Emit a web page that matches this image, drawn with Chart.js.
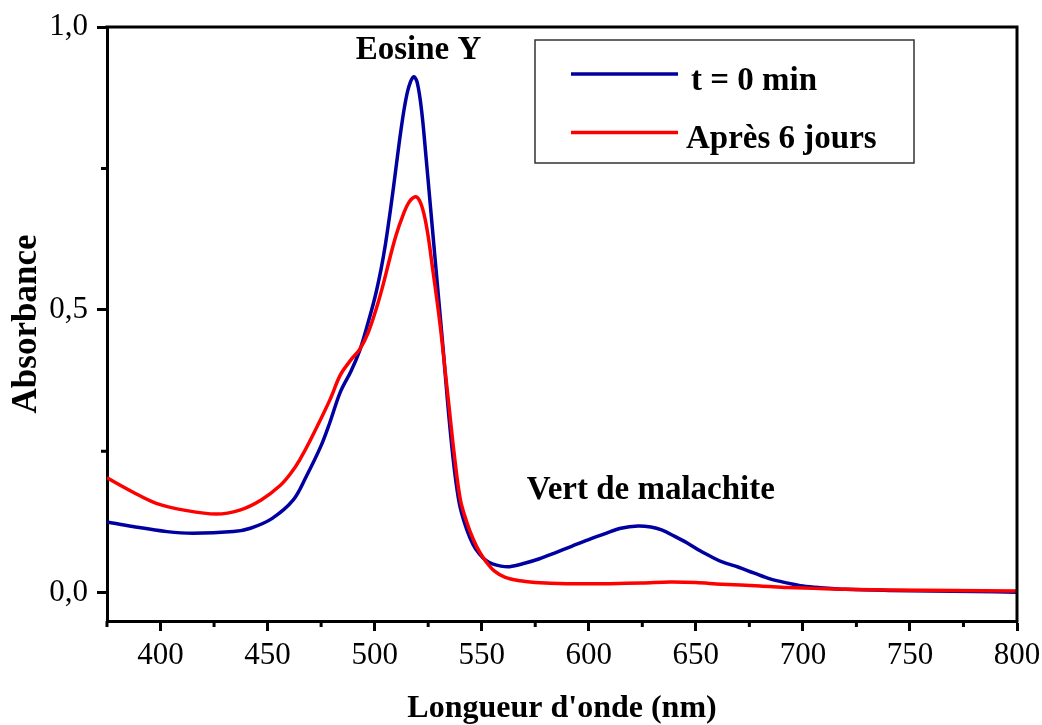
<!DOCTYPE html>
<html>
<head>
<meta charset="utf-8">
<script src="https://cdn.jsdelivr.net/npm/chart.js@4/dist/chart.umd.min.js"></script>
<style>
  html, body { margin: 0; padding: 0; background: #fff; }
  #chart { display: block; }
</style>
</head>
<body>
<canvas id="chart" width="1042" height="725"></canvas>
<script>
// values (wavelength in nm, absorbance)
const blueWavelengths = [375, 387, 403, 415, 434, 442, 452, 462, 468, 475, 479, 484, 489, 493, 496, 500, 503, 505, 507.5, 510,
  512, 514, 516, 518.3, 520, 522, 524, 526, 528, 530, 532, 534, 536, 538, 540, 543, 546, 549, 552, 555,
  559, 563, 570, 577, 584, 592, 600, 608, 615, 623, 629, 634, 640, 646, 652, 657, 662, 670, 677, 685,
  693, 700, 708, 720, 740, 760, 780, 800]
const blueAbsorbance = [0.125, 0.117, 0.108, 0.105, 0.108, 0.114, 0.131, 0.164, 0.205, 0.26, 0.30, 0.355, 0.392, 0.428, 0.465, 0.52, 0.572, 0.615, 0.68, 0.752,
  0.81, 0.86, 0.895, 0.912, 0.90, 0.85, 0.77, 0.685, 0.60, 0.515, 0.43, 0.34, 0.26, 0.195, 0.15, 0.112, 0.085, 0.068, 0.057, 0.051,
  0.047, 0.046, 0.052, 0.06, 0.07, 0.082, 0.094, 0.105, 0.114, 0.118, 0.116, 0.111, 0.10, 0.088, 0.074, 0.064, 0.055, 0.045, 0.035, 0.024,
  0.017, 0.012, 0.009, 0.006, 0.004, 0.003, 0.002, 0.001]

const redWavelengths = [375, 387, 398, 411, 426, 437, 447, 456, 461, 465, 470, 479, 484, 489, 493, 497, 501, 504, 507, 510,
  513, 516, 519, 521, 523, 525, 527, 529, 531, 533, 535, 537, 540, 543, 546, 549, 552, 556, 561, 568,
  575, 590, 610, 625, 638, 650, 662, 680, 693, 710, 740, 770, 800]
const redAbsorbance = [0.203, 0.178, 0.158, 0.146, 0.139, 0.146, 0.164, 0.19, 0.212, 0.235, 0.27, 0.34, 0.385, 0.412, 0.43, 0.46, 0.505, 0.545, 0.59, 0.632,
  0.665, 0.69, 0.70, 0.693, 0.67, 0.63, 0.575, 0.52, 0.46, 0.39, 0.32, 0.25, 0.165, 0.125, 0.095, 0.072, 0.055, 0.038, 0.027, 0.021,
  0.018, 0.016, 0.016, 0.017, 0.019, 0.018, 0.015, 0.012, 0.009, 0.007, 0.005, 0.004, 0.003]

const seriesLabels = ['t = 0 min', 'Après 6 jours']
const seriesColors = ['#0000a0', '#ff0000']

const xMinorTicks = [375, 425, 475, 525, 575, 625, 675, 725, 775]
const yMinorTicks = [0.25, 0.75]
const yTickLabels = { '0': '0,0', '0.5': '0,5', '1': '1,0' }

const peakNotes = [
  { text: 'Eosine Y', x: 520.5, y: 0.959 },
  { text: 'Vert de malachite', x: 629, y: 0.18 },
]

const SERIF = "'Liberation Serif', 'Times New Roman', serif"

function toPoints(xs, ys) {
  return xs.map((x, i) => ({ x, y: ys[i] }))
}

const framePlugin = {
  id: 'frame',
  afterDraw(chart) {
    const { ctx, chartArea: area, scales } = chart
    ctx.save()
    ctx.strokeStyle = '#000'
    ctx.lineWidth = 3
    ctx.beginPath()
    ctx.moveTo(area.left - 1.5, area.top)
    ctx.lineTo(area.right, area.top)
    ctx.lineTo(area.right, area.bottom + 1.5)
    ctx.stroke()

    // minor ticks, outward
    ctx.beginPath()
    for (const v of xMinorTicks) {
      const px = scales.x.getPixelForValue(v)
      ctx.moveTo(px, area.bottom)
      ctx.lineTo(px, area.bottom + 6)
    }
    for (const v of yMinorTicks) {
      const py = scales.y.getPixelForValue(v)
      ctx.moveTo(area.left, py)
      ctx.lineTo(area.left - 6, py)
    }
    ctx.stroke()

    // peak labels
    ctx.fillStyle = '#000'
    ctx.font = `bold 33px ${SERIF}`
    ctx.textAlign = 'center'
    ctx.textBaseline = 'middle'
    for (const note of peakNotes) {
      ctx.fillText(note.text, scales.x.getPixelForValue(note.x), scales.y.getPixelForValue(note.y))
    }

    // legend box
    const left = area.left + 428
    const top = area.top + 13
    ctx.lineWidth = 1.5
    ctx.strokeStyle = '#333'
    ctx.strokeRect(left, top, 379, 123)
    chart.data.datasets.forEach((ds, i) => {
      const rowY = top + 34 + i * 58.5
      ctx.strokeStyle = ds.borderColor
      ctx.lineWidth = 3.5
      ctx.beginPath()
      ctx.moveTo(left + 36, rowY)
      ctx.lineTo(left + 143, rowY)
      ctx.stroke()
      ctx.fillStyle = '#000'
      ctx.textAlign = 'left'
      ctx.fillText(ds.label, left + 156 - i * 5, rowY + 7)
    })
    ctx.restore()
  },
}

new Chart(document.getElementById('chart'), {
  type: 'line',
  data: {
    datasets: [0, 1].map((i) => ({
      label: seriesLabels[i],
      data: toPoints(i === 0 ? blueWavelengths : redWavelengths, i === 0 ? blueAbsorbance : redAbsorbance),
      borderColor: seriesColors[i],
      backgroundColor: seriesColors[i],
      borderWidth: 3.5,
      pointRadius: 0,
      tension: 0.35,
      order: i === 0 ? 1 : 0,
    })),
  },
  options: {
    responsive: false,
    animation: false,
    devicePixelRatio: 1,
    layout: { padding: { left: 0, top: 27, right: 25, bottom: 0 } },
    plugins: { legend: { display: false }, tooltip: { enabled: false } },
    scales: {
      x: {
        type: 'linear',
        min: 375,
        max: 800,
        border: { display: true, width: 3, color: '#000' },
        grid: { drawOnChartArea: false, drawTicks: true, tickLength: 10, tickWidth: 3, tickColor: '#000' },
        ticks: { stepSize: 50, includeBounds: false, color: '#000', padding: 6, maxRotation: 0, font: { family: SERIF, size: 31 } },
        title: { display: true, text: "Longueur d'onde (nm)", color: '#000', padding: { top: 0, bottom: 0 }, font: { family: SERIF, size: 32, weight: 'bold', lineHeight: 1.0 } },
        afterFit: (scale) => {
          scale.height = 104
          scale.paddingLeft = 0
          scale.paddingRight = 0
        },
      },
      y: {
        min: -0.05,
        max: 1.0,
        border: { display: true, width: 3, color: '#000' },
        grid: { drawOnChartArea: false, drawTicks: true, tickLength: 10, tickWidth: 3, tickColor: '#000' },
        ticks: {
          stepSize: 0.5,
          includeBounds: false,
          color: '#000',
          padding: 9,
          font: { family: SERIF, size: 31 },
          callback: (v) => yTickLabels[String(Math.round(v * 10) / 10)] ?? '',
        },
        title: { display: true, text: 'Absorbance', color: '#000', padding: { top: 6, bottom: 0 }, font: { family: SERIF, size: 35, weight: 'bold', lineHeight: 1.2 } },
        afterFit: (scale) => {
          scale.width = 107
          scale.paddingTop = 0
          scale.paddingBottom = 0
        },
      },
    },
  },
  plugins: [framePlugin],
})
</script>
</body>
</html>
